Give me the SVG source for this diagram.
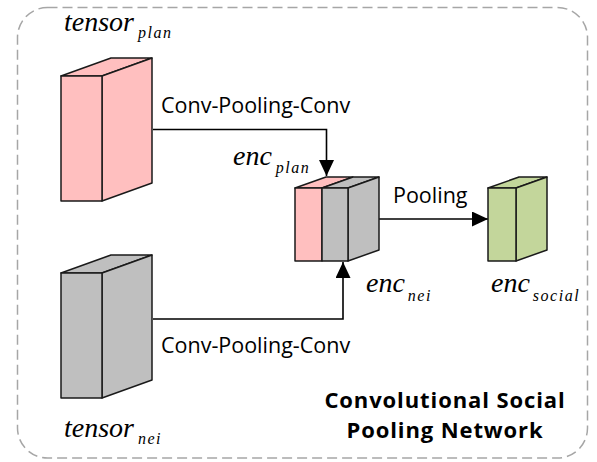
<svg xmlns="http://www.w3.org/2000/svg" width="597" height="462" viewBox="0 0 597 462">
<defs>
<style>
.frame{fill:none;stroke:#a6a6a6;stroke-width:1.5;stroke-dasharray:10 5}
.box{stroke:#1a1a1a;stroke-width:1.5;stroke-linejoin:round}
.pink{fill:#ffbfbf}
.gray{fill:#bfbfbf}
.green{fill:#c3d69b}
.conn{fill:none;stroke:#000;stroke-width:1.6}
.lbl{font-family:"Open Sans","Noto Sans",sans-serif;font-size:21.5px;fill:#000}
.ital{font-family:"Liberation Serif","Times New Roman",serif;font-style:italic;fill:#000}
.main{font-size:28px}
.sub{font-size:16px;letter-spacing:1.5px}
.title{font-family:"Open Sans","Noto Sans",sans-serif;font-size:22px;letter-spacing:0.9px;font-weight:bold;fill:#000;text-anchor:middle}
</style>
<marker id="arr" markerUnits="userSpaceOnUse" markerWidth="16" markerHeight="15" refX="16" refY="7.5" orient="auto">
<path d="M0,0 L16,7.5 L0,15 z" fill="#000"/>
</marker>
</defs>
<rect class="frame" x="17.5" y="7.5" width="570" height="450.5" rx="30" ry="30"/>

<g id="connectors">
<path class="conn" d="M153,129.5 H326.5 V176" marker-end="url(#arr)"/>
<path class="conn" d="M153,319 H343 V262" marker-end="url(#arr)"/>
<path class="conn" d="M379,219 H488" marker-end="url(#arr)"/>
<text class="lbl" x="161" y="113">Conv-Pooling-Conv</text>
<text class="lbl" x="161" y="353">Conv-Pooling-Conv</text>
<text class="lbl" x="393" y="203">Pooling</text>
</g>

<g id="tensor_plan">
<polygon class="box pink" points="61,76 102,76 152,58 111,58"/>
<polygon class="box pink" points="102,76 152,58 152,183 102,201"/>
<rect class="box pink" x="61" y="76" width="41" height="125"/>
<text class="ital" x="64" y="31"><tspan class="main">tensor</tspan><tspan class="sub" dx="4" dy="7">plan</tspan></text>
</g>

<g id="tensor_nei">
<polygon class="box gray" points="61,273 102,273 152,255 111,255"/>
<polygon class="box gray" points="102,273 152,255 152,380 102,398"/>
<rect class="box gray" x="61" y="273" width="41" height="125"/>
<text class="ital" x="64" y="437"><tspan class="main">tensor</tspan><tspan class="sub" dx="4" dy="7">nei</tspan></text>
</g>

<g id="enc">
<polygon class="box pink" points="295,188 322,188 353,177 326,177"/>
<polygon class="box gray" points="322,188 348,188 379,177 353,177"/>
<polygon class="box gray" points="348,188 379,177 379,250 348,261"/>
<rect class="box pink" x="295" y="188" width="27" height="73"/>
<rect class="box gray" x="322" y="188" width="26" height="73"/>
<text class="ital" x="233" y="165"><tspan class="main">enc</tspan><tspan class="sub" dx="4" dy="8">plan</tspan></text>
<text class="ital" x="366" y="292"><tspan class="main">enc</tspan><tspan class="sub" dx="3" dy="9">nei</tspan></text>
</g>

<g id="enc_social">
<polygon class="box green" points="488,188 516,188 547,177 519,177"/>
<polygon class="box green" points="516,188 547,177 547,250 516,261"/>
<rect class="box green" x="488" y="188" width="28" height="73"/>
<text class="ital" x="491" y="292"><tspan class="main">enc</tspan><tspan class="sub" dx="3" dy="9">social</tspan></text>
</g>

<g id="title">
<text class="title" x="445" y="408">Convolutional Social</text>
<text class="title" x="445" y="438">Pooling Network</text>
</g>
</svg>
